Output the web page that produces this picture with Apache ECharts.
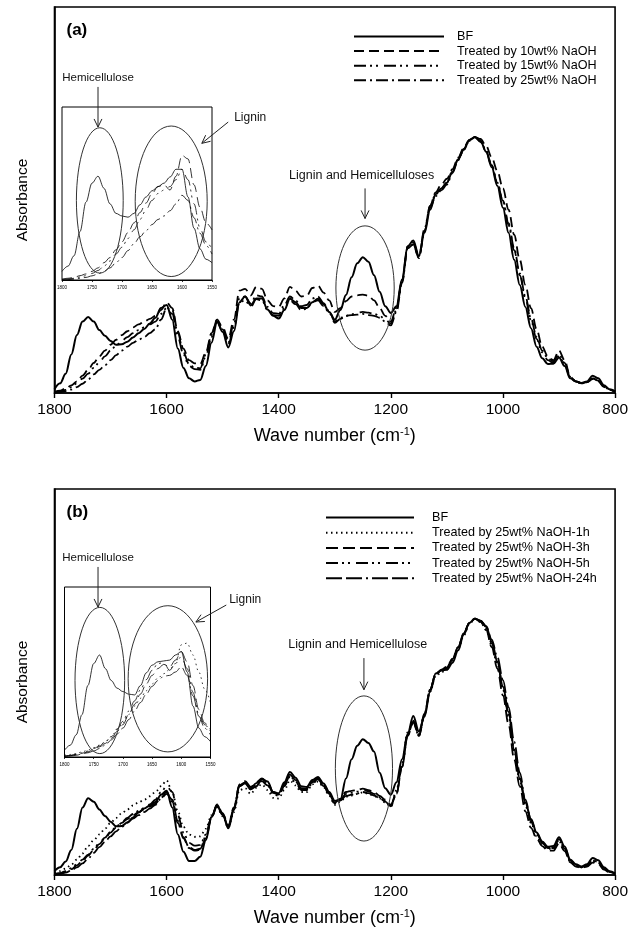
<!DOCTYPE html>
<html><head><meta charset="utf-8">
<script src="https://cdn.jsdelivr.net/npm/echarts@6/dist/echarts.min.js"></script>
<style>html,body{margin:0;padding:0;background:#fff}#c{width:631px;height:940px}</style>
</head><body><div id="c"></div>
<script>
// ---------- DATA ----------
const wnMain = [1800,1790,1780,1770,1760,1750,1740,1730,1720,1710,1700,1690,1680,1670,1660,1650,1640,1630,1620,1610,1600,1590,1580,1570,1560,1550,1540,1530,1520,1510,1500,1490,1480,1470,1460,1450,1440,1430,1420,1410,1400,1390,1380,1370,1360,1350,1340,1330,1320,1310,1300,1290,1280,1270,1260,1250,1240,1230,1220,1210,1200,1190,1180,1170,1160,1150,1140,1130,1120,1110,1100,1090,1080,1070,1060,1050,1040,1030,1020,1010,1000,990,980,970,960,950,940,930,920,910,900,890,880,870,860,850,840,830,820,810,800];
const wnInset = [1800,1790,1780,1770,1760,1750,1740,1730,1720,1710,1700,1690,1680,1670,1660,1650,1640,1630,1620,1610,1600,1590,1580,1570,1560,1550];
const xTicksMain = [1800,1600,1400,1200,1000,800];
const xTicksInset = [1800,1750,1700,1650,1600,1550];

// Panel (a) series
const namesA = ['BF','Treated by 10wt% NaOH','Treated by 15wt% NaOH','Treated by 25wt% NaOH'];
const bfA = [1.0,2.5,5,10,15,18.5,19.7,18.5,16.3,14.8,13.5,12.5,12.6,13.3,14.4,15.5,16.6,18,19.5,22,22.8,19,11.5,6.5,3.8,3,3.4,7,13,18.4,15.8,11.8,16,23.5,25,22.7,24.5,24.5,21.6,20,19.3,21.5,24.4,23.5,22,22,23.5,24.4,23,21,19,21.5,25.4,30,33.6,35.2,34,30.5,26.2,22.5,20.7,22.5,29.5,38,39.5,35.5,41.5,47.5,51.5,53,54.5,57.4,60.5,63.2,65.5,66.3,65.3,62.5,58.5,53.7,48,41.5,34.5,28,22.3,16.8,12,9,7.5,7.6,9.2,7,3.8,3,2.6,3,4.5,3.8,2,1,0.4];
const t10A = [0.3,0.6,1.2,2,3,4.5,6,7.8,9.5,11,12.5,13.8,15,16,17,17.8,18.5,19.2,20,21.5,23.5,22,16,11.5,8.5,7.7,7.5,10.5,15.5,19,17,14,19,26.5,27,25.3,27.5,27,24,22.5,22.3,24.5,27.5,26.5,25,25.2,27.2,27.8,26,24,21,22,23.8,25,25.3,25.5,25.2,24,22,20,18.5,22,29,37.5,38.5,35,42,48.5,52,54,55.5,58,61,63.5,65.6,66.3,65.8,64,61,57.5,53,47.5,41,34.5,28,22,16.5,12,9.5,8.5,11,8.5,4.2,3,2.5,2.8,3.6,3,1.6,0.8,0.3];
const t15A = [0.2,0.4,0.8,1.5,2.5,3.7,5,6.5,8,9.5,11,12.3,13.5,14.5,15.5,16.3,17,17.8,18.5,20.5,22,20.5,14.5,10,7,6.2,6,9.5,14.5,18.5,16,12.5,17,23.5,24,22.3,24.3,24,21.5,20.2,20,22,24,23,21.5,21.8,23.5,24,22.5,20.8,18.2,19.2,20,20.4,20.8,21,20.8,20.5,20,19,18,21.5,29,38,39,35.5,42.5,48.5,51.5,53,54.5,57.5,60.5,63,65.3,66.3,65.2,62.8,59,54.5,49.5,43.5,37,30.5,24.5,18.8,14,10.5,8.5,7.8,9.5,7.5,4,3,2.5,2.8,3.8,3.2,1.7,0.9,0.3];
const t25A = [0.1,0.2,0.5,0.9,1.5,2.4,3.5,4.8,6,7.2,8.5,9.8,11,12,13,13.8,14.5,15.5,16.5,19,22,21.5,15.5,10.5,7.5,6.6,6.4,10,15,19,16.5,13,18,24.5,25,23.2,25.3,25,22.3,20.7,20.5,22.8,25,24,22.5,22.8,24.5,25,23.3,21.2,18.5,19.5,20,20.2,20.3,20.5,20.2,20,19.5,18.5,17.5,21,28.5,37.5,38.5,35,42,48,51,52.5,54,57,60.3,63,65.3,66.3,65,62.5,58.8,54.5,49.8,44,37.5,31,25,19.3,14.5,11,9,8.2,10,7.8,4.2,3,2.5,2.8,3.8,3.2,1.7,0.9,0.3];
// Panel (a) inset
const bfAi  = [5,8,14,28,45,56,60,53,44,38.5,37,36.3,38.5,43.5,48,51.5,54,56,59.5,64,64,48,30,18,12,10];
const t10Ai = [0.5,1,1.5,2.5,3.5,5,7,10,13,17.5,22,27.5,33,39,44.5,50,54,55,52,60,72,70,55,42,33,29];
const t15Ai = [0.3,0.6,1,1.7,2.5,3.8,5.5,8,11,15,19,24,29,35,40.5,46,50,52,54,58,64,58,44,30,22,18];
const t25Ai = [0,0.2,0.5,1,1.5,2.4,3.5,5,7,10,13,17,21,25,28.5,32,35,37,40,44,49,46,36,27,20,15];

// Panel (b) series
const namesB = ['BF','Treated by 25wt% NaOH-1h','Treated by 25wt% NaOH-3h','Treated by 25wt% NaOH-5h','Treated by 25wt% NaOH-24h'];
const bfB = [1.0,2,3.5,6.5,12,17.5,19.9,19,17,15.3,13.8,12.6,12.7,13.6,14.9,16.2,17.2,18,18.9,20.8,21.8,17.5,10.5,6,3.6,3.6,4.7,9,15,17.8,15.8,12.1,16.8,23,23.8,22.2,23,24.8,24.2,21.5,21.2,24,26.7,25.2,23,22.8,24.6,25.4,23.7,21.5,19.2,19.5,25,30,33.5,35.2,34.2,32,26.5,22.5,20.8,24,30,36.5,41.2,37.2,41,47.5,52.2,53,53.2,55,58.2,62.3,65.3,66.4,65.8,64.3,60.5,55.3,48.8,42.2,32.5,25,18.8,14.5,11,8.7,7.3,7.5,9.8,7.4,4,2.8,2.2,2.8,4.4,3.8,2,1,0.4];
const h1B = [0.5,1,1.7,2.7,4,5.6,7.5,9,10.5,12,13.5,14.8,16,17,18,18.8,19.5,20.4,21.5,23,24.5,21.5,16.5,12.5,10.5,9.9,10,12,15.5,17.5,15.2,12.3,16.3,22,22.5,21,22.6,23.5,22,20,19.8,22,24.5,23.2,21.5,21.5,23.5,24.2,22.8,20.5,18.2,19,20.3,20.6,21,21.4,21,20.5,19.8,18.8,17.7,22,29,37,39.5,36.5,41.5,47.5,51.5,52.5,53.2,55.5,58.5,62,65,66.4,65.5,63.5,59.5,54.5,48,41,32,24.5,18,13.5,10,8,6.8,6.7,8.7,6.5,3.5,2.4,2,2.4,3.6,3.2,1.6,0.8,0.3];
const h3B = [0.2,0.4,0.8,1.5,2.5,3.7,5,6.5,8,9.5,11,12.3,13.5,14.5,15.5,16.3,17,17.7,18.5,20,21.5,19,13.5,9.5,7,6.3,6.5,9.5,14.8,18.3,16,12.8,17.5,23.5,24.3,22.8,24,25,24,21.5,21,23.6,26,24.6,22.5,22.4,24.3,25,23.4,21.3,18.7,19.8,21.5,21.8,22,22.4,22,21.5,20.5,19.5,18.2,21,28,36,39.5,36,41.5,48,52,53.2,54,56,59,62.5,65.2,66.4,65.6,63.5,59,53.5,46.5,39,30,23,16.5,12.2,9.5,7.5,6.3,6.3,8.2,6.2,3.3,2.2,1.8,2.2,3.2,2.9,1.4,0.7,0.3];
const h5B = [0.3,0.5,1,1.8,2.8,4,5.3,6.8,8.3,9.7,11.2,12.5,13.7,14.8,15.8,16.6,17.4,18.3,19.5,21.5,23,21.5,15.5,11,8.3,7.6,7.8,10.5,15,18,15.5,12.5,17,23,23.8,22.2,23.5,24.3,23.2,21,20.5,23,25.4,24,22,22,23.8,24.5,23,20.8,18.4,19.5,21,21.3,21.6,22,21.7,21,20.2,19.2,18,21.5,28.5,36.5,40,36.3,41.8,48,52,53,53.6,55.8,58.8,62.5,65.2,66.4,65.8,64,60,55,48.5,41.5,32.5,25,18.5,13.8,10.5,8.3,7,7,9,6.8,3.7,2.5,2,2.5,3.7,3.3,1.7,0.8,0.3];
const h24B = [0.1,0.3,0.6,1.2,2,3,4.3,5.7,7.2,8.6,10,11.3,12.5,13.6,14.6,15.5,16.3,17.2,18.2,19.8,21,19.5,14,9.8,7.2,6.5,6.8,10,15,18.2,15.8,12.6,17.3,23.3,24,22.5,23.8,24.7,23.6,21.3,20.8,23.3,25.7,24.3,22.2,22.2,24,24.8,23.2,21,18.5,19.3,20.5,20.8,21.1,21.5,21.2,20.6,19.9,19,17.8,21,28,36.2,39.8,36,41.6,48,52,53,53.8,56,59,62.6,65.3,66.4,65.9,64.5,61,56.5,50.5,43.5,34.5,26.5,19.5,14.3,10.8,8.4,7,7,9.3,7,3.8,2.6,2.1,2.6,3.8,3.4,1.8,0.9,0.3];
// Panel (b) inset
const bfBi  = [4,7,13,25,42,55,60,52,45,40.5,38.5,37,36.5,42,49.5,54,56,56.5,57,60,62,50,30,17,12,9];
const h1Bi  = [1,1.5,2,3,4,5.5,7,9,12,16,20,25,30,34.5,39,43,46.5,49,51.5,55,66,67,60,50,40,32];
const h3Bi  = [0.5,0.8,1.5,2.2,3,4.5,6,8,11,15,19,25,31,37,43,48,52,54.5,53,57,62,56,42,28,20,16];
const h5Bi  = [0.5,0.9,1.6,2.4,3.5,5,6.5,9,12,16.5,21,27,33,39.5,45.5,51,55,55.5,51,55,59,52,38,25,19,15];
const h24Bi = [0.3,0.6,1,1.8,2.5,3.5,5,7,10,13.5,17,22,27,32,37,41.5,45,47.5,48,50,53,48,36,24,17,13];

// ---------- STYLE ----------
const FONT = 'Liberation Sans, Arial, sans-serif';
const dashA = ['solid',[10,5],[12,4,2,4,2,6],[12,4,2,4]];
const dashB = ['solid',[1.5,3.5],[12,5],[12,4,2,4,2,6],[16,4,16,4,2,4]];

const grids = [
  {left:54.5, top:7, width:562.5, height:386, show:true, borderColor:'#000', borderWidth:1.6},
  {left:62, top:107, width:150, height:173, show:true, borderColor:'#000', borderWidth:1, backgroundColor:'#fff', z:5},
  {left:54.5, top:489, width:562.5, height:386, show:true, borderColor:'#000', borderWidth:1.6},
  {left:64.5, top:587, width:146, height:170, show:true, borderColor:'#000', borderWidth:1, backgroundColor:'#fff', z:5}
];
function mainX(gi){
  return {gridIndex:gi, type:'value', min:800, max:1800, interval:200, inverse:true,
    axisLine:{show:true, lineStyle:{color:'#000', width:1.6}},
    axisTick:{show:true, length:5, lineStyle:{color:'#000', width:1.4}},
    axisLabel:{color:'#000', fontSize:15.5, fontFamily:FONT, margin:9,
      formatter:v=> xTicksMain.includes(v)? String(v):''},
    splitLine:{show:false},
    name:'Wave number (cm{sup|-1})', nameLocation:'middle', nameGap:33,
    nameTextStyle:{color:'#000', fontSize:18, fontFamily:FONT,
      rich:{sup:{fontSize:11, fontFamily:FONT, color:'#000', padding:[0,0,10,0]}}}};
}
function insetX(gi){
  return {gridIndex:gi, type:'value', min:1550, max:1800, interval:50, inverse:true,
    axisLine:{show:true, lineStyle:{color:'#000', width:1}},
    axisTick:{show:true, length:2, inside:false, lineStyle:{color:'#000', width:0.8}},
    axisLabel:{color:'#000', fontSize:4.5, fontFamily:FONT, margin:5,
      formatter:v=> xTicksInset.includes(v)? String(v):''},
    splitLine:{show:false}};
}
function mainY(gi){
  return {gridIndex:gi, type:'value', min:0, max:100,
    axisLine:{show:true, lineStyle:{color:'#000', width:1.6}}, axisTick:{show:false},
    axisLabel:{show:false}, splitLine:{show:false},
    name:'Absorbance', nameLocation:'middle', nameGap:24, nameRotate:90,
    nameTextStyle:{color:'#000', fontSize:15.5, fontFamily:FONT}};
}
function insetY(gi){
  return {gridIndex:gi, type:'value', min:0, max:100, show:false};
}
function mk(name, xs, ys, gi, dash, w, z){
  return {name:name, type:'line', xAxisIndex:gi, yAxisIndex:gi,
    data: xs.map((x,i)=>[x, ys[i]]), symbol:'none', smooth:0.35, smoothMonotone:'x',
    lineStyle:{color:'#000', width:w, type:dash}, itemStyle:{color:'#000'},
    z:z, silent:true, animation:false};
}
const series = [];
const valsA = [bfA,t10A,t15A,t25A], valsAi = [bfAi,t10Ai,t15Ai,t25Ai];
const valsB = [bfB,h1B,h3B,h5B,h24B], valsBi = [bfBi,h1Bi,h3Bi,h5Bi,h24Bi];
const legNamesB = ['BF '].concat(namesB.slice(1));
namesA.forEach((n,i)=>series.push(mk(n, wnMain, valsA[i], 0, dashA[i], i===0?2:1.8, 2)));
namesA.forEach((n,i)=>series.push(mk('inA'+i, wnInset, valsAi[i], 1, dashA[i], 0.8, 6)));
legNamesB.forEach((n,i)=>series.push(mk(n, wnMain, valsB[i], 2, dashB[i], i===0?2:1.8, 2)));
namesB.forEach((n,i)=>series.push(mk('inB'+i, wnInset, valsBi[i], 3, dashB[i], 0.8, 6)));

const legendText = {color:'#000', fontSize:12.6, fontFamily:FONT};
const hideSym = {color:'rgba(0,0,0,0)', borderColor:'rgba(0,0,0,0)', borderWidth:0, opacity:0};
const option = {
  backgroundColor:'#fff', animation:false,
  grid: grids,
  xAxis:[mainX(0), insetX(1), mainX(2), insetX(3)],
  yAxis:[mainY(0), insetY(1), mainY(2), insetY(3)],
  legend:[
    {data:namesA, orient:'vertical', left:348, top:25, itemWidth:90, itemHeight:12, itemGap:1.6,
     itemStyle:hideSym, selectedMode:false, formatter:n=>'{g|}'+n,
     textStyle:Object.assign({rich:{g:{width:8}}}, legendText)},
    {data:legNamesB, orient:'vertical', left:320, top:506, itemWidth:88, itemHeight:12, itemGap:2.2,
     itemStyle:hideSym, selectedMode:false, formatter:n=>'{h|}'+n.trim(),
     textStyle:Object.assign({rich:{h:{width:13}}}, legendText)}
  ],
  series: series
};
const chart = echarts.init(document.getElementById('c'), null, {renderer:'canvas'});
chart.setOption(option);

// ---------- ANNOTATIONS (in data coordinates of each grid) ----------
const ellipses = [
  {g:0, cx:1246, cy:27.2, rx:52, ry:16.1},
  {g:1, cx:1737, cy:46, rx:39, ry:42},
  {g:1, cx:1618, cy:45.5, rx:60, ry:43.5},
  {g:2, cx:1248, cy:27.6, rx:51, ry:18.8},
  {g:3, cx:1739.5, cy:45, rx:42.5, ry:43},
  {g:3, cx:1623, cy:46, rx:68, ry:43}
];
const arrows = [
  {g:0, from:[1246,53], to:[1246,45.2]},
  {g:1, from:[1740,111.6], to:[1740,88.4]},
  {g:1, from:[1523,91.3], to:[1567,79]},
  {g:2, from:[1248,56.2], to:[1248,48]},
  {g:3, from:[1742.6,111.8], to:[1742.6,88.2]},
  {g:3, from:[1523,89.4], to:[1575,79.4]}
];
const labels = [
  {g:0, at:[1252,56.4], text:'Lignin and Hemicelluloses', size:12.5, align:'center'},
  {g:1, at:[1740,116.8], text:'Hemicellulose', size:11.5, align:'center'},
  {g:1, at:[1513,93.6], text:'Lignin', size:12, align:'left'},
  {g:2, at:[1259,59.6], text:'Lignin and Hemicellulose', size:12.5, align:'center'},
  {g:3, at:[1742.6,117], text:'Hemicellulose', size:11.5, align:'center'},
  {g:3, at:[1518,92.4], text:'Lignin', size:12, align:'left'}
];
const panelTags = [{g:0, text:'(a)'},{g:2, text:'(b)'}];

function px(g, p){ return chart.convertToPixel({xAxisIndex:g, yAxisIndex:g}, p); }
const gfx = [];
ellipses.forEach(e=>{
  const c = px(e.g,[e.cx,e.cy]);
  const r = px(e.g,[e.cx+e.rx, e.cy+e.ry]);
  gfx.push({type:'ellipse', shape:{cx:c[0], cy:c[1], rx:Math.abs(r[0]-c[0]), ry:Math.abs(c[1]-r[1])},
    style:{fill:null, stroke:'#333', lineWidth:1}, z:20, silent:true});
});
arrows.forEach(a=>{
  const p0 = px(a.g,a.from), p1 = px(a.g,a.to);
  const ang = Math.atan2(p1[1]-p0[1], p1[0]-p0[0]);
  const L = 9, s = 0.45;
  const h1 = [p1[0]-L*Math.cos(ang-s), p1[1]-L*Math.sin(ang-s)];
  const h2 = [p1[0]-L*Math.cos(ang+s), p1[1]-L*Math.sin(ang+s)];
  gfx.push({type:'polyline', shape:{points:[p0,p1]}, style:{stroke:'#222', lineWidth:1, fill:null}, z:20, silent:true});
  gfx.push({type:'polyline', shape:{points:[h1,p1,h2]}, style:{stroke:'#222', lineWidth:1, fill:null}, z:20, silent:true});
});
labels.forEach(l=>{
  const p = px(l.g,l.at);
  gfx.push({type:'text', x:p[0], y:p[1], style:{text:l.text, fill:'#111', font:l.size+'px '+FONT,
    align:l.align, verticalAlign:'middle'}, z:21, silent:true});
});
panelTags.forEach(t=>{
  const gr = grids[t.g];
  gfx.push({type:'text', x:gr.left+12, y:gr.top+23, style:{text:t.text, fill:'#000',
    font:'bold 17px '+FONT, verticalAlign:'middle'}, z:21, silent:true});
});
chart.setOption({graphic:gfx});
</script>
</body></html>
